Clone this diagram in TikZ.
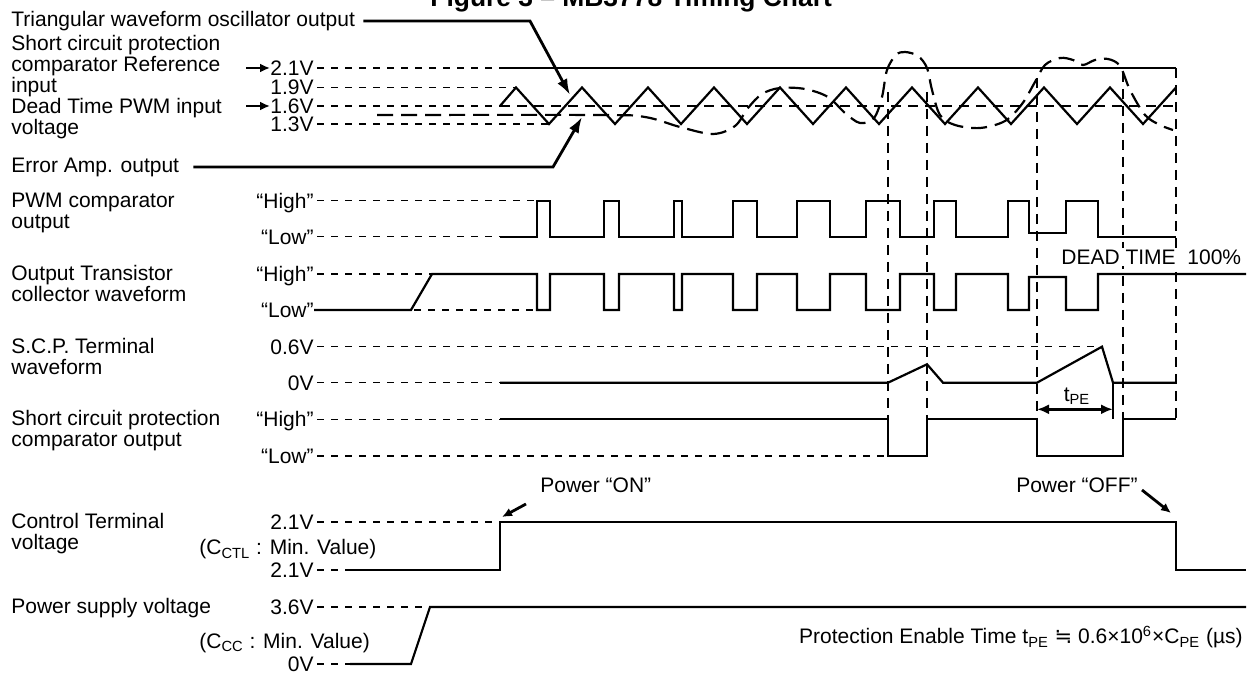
\documentclass[tikz,border=0pt]{standalone}
\usepackage{fontspec}
\setmainfont{Liberation Sans}
\newfontfamily\symfont{DejaVu Sans}
\usetikzlibrary{arrows.meta}

\tikzset{
  txt/.style={font=\fontsize{10.5}{10.5}\selectfont, inner sep=0pt, align=left},
  lev/.style={txt, anchor=base east, text height=7.5pt, text depth=0pt},
  sig/.style={line width=1.1pt},
  guide/.style={line width=0.55pt, dash pattern=on 3.5pt off 3.5pt, shorten <=1.5pt},
  vline/.style={line width=0.9pt, dash pattern=on 5pt off 3.5pt},
  eacurve/.style={line width=1.1pt, dash pattern=on 8pt off 4pt},
  lead/.style={line width=1.4pt, -{Latex[length=8pt,width=5.5pt]}},
  ptr/.style={line width=1.4pt, -{Latex[length=5pt,width=4.5pt]}},
  dbl/.style={line width=1.4pt, {Latex[length=6pt,width=5pt]}-{Latex[length=6pt,width=5pt]}}
}

\begin{document}
\begin{tikzpicture}[x=0.5pt, y=-0.5pt]
\useasboundingbox (0,0) rectangle (1254,673);

\node[txt, font=\fontsize{13.2}{14}\selectfont\bfseries, anchor=base west] (title) at (430,7) {Figure 3 – MB3778 Timing Chart};

\node[txt, anchor=west] (tri) at (11,21) {Triangular waveform oscillator output};
\node[txt, anchor=base west] (scpref) at (11,93) {Short circuit protection\\comparator Reference\\input};
\node[txt, anchor=base west] (dtpwm) at (11,135) {Dead Time PWM input\\voltage};
\node[txt, anchor=west] (eaout) at (11,167) {Error Amp. output};
\node[txt, anchor=base west] (pwmout) at (11,229) {PWM comparator\\output};
\node[txt, anchor=base west] (otr) at (11,302) {Output Transistor\\collector waveform};
\node[txt, anchor=base west] (scpt) at (11,375) {S.C.P. Terminal\\waveform};
\node[txt, anchor=base west] (scpc) at (11,447) {Short circuit protection\\comparator output};
\node[txt, anchor=base west] (ctl) at (11,550) {Control Terminal\\voltage};
\node[txt, anchor=base west] (vcc) at (11,614) {Power supply voltage};

\node[lev] (v21) at (314,75.5) {2.1V};
\node[lev] (v19) at (314,95) {1.9V};
\node[lev] (v16) at (314,113.5) {1.6V};
\node[lev] (v13) at (314,131.5) {1.3V};
\node[lev] (pwmhi) at (314,208.2) {“High”};
\node[lev] (pwmlo) at (314,244.2) {“Low”};
\node[lev] (othi) at (314,281.5) {“High”};
\node[lev] (otlo) at (314,317.5) {“Low”};
\node[lev] (v06) at (314,354.2) {0.6V};
\node[lev] (v0) at (314,390.2) {0V};
\node[lev] (schi) at (314,426.8) {“High”};
\node[lev] (sclo) at (314,463.5) {“Low”};
\node[lev] (cthi) at (314,529.5) {2.1V};
\node[txt, anchor=base west] (cctl) at (199,555) {(C\textsubscript{CTL} : Min. Value)};
\node[lev] (ctlo) at (314,577.5) {2.1V};
\node[lev] (vcchi) at (314,614.5) {3.6V};
\node[txt, anchor=base west] (ccc) at (199,648) {(C\textsubscript{CC} : Min. Value)};
\node[lev] (vcclo) at (314,671.5) {0V};

\draw[ptr] ([xshift=-12pt]v21.west) -- (v21.west);
\draw[ptr] ([xshift=-12pt]v16.west) -- (v16.west);

\draw[guide] (v21.east) -- (500,68);
\draw[guide] (v19.east) -- (516,87.5);
\draw[guide] (v16.east) -- (500,106);
\draw[guide] (v13.east) -- (549,124);
\draw[guide] (pwmhi.east) -- (537,200.7);
\draw[guide] (pwmlo.east) -- (500,236.7);
\draw[guide] (othi.east) -- (432,274);
\draw[guide] (411,310) -- (537,310);
\draw[guide] (v06.east) -- (1102,346.7);
\draw[guide] (v0.east) -- (500,382.7);
\draw[guide] (schi.east) -- (500,419.3);
\draw[guide] (sclo.east) -- (888,456);
\draw[guide] (cthi.east) -- (500,522);
\draw[guide] (ctlo.east) -- (350,570);
\draw[guide] (vcchi.east) -- (430,607);
\draw[guide] (vcclo.east) -- (350,664);

\draw[sig] (500,68) -- (1176,68);
\draw[sig] (500,106) \foreach \k in {0,...,9} { -- (516+66*\k,87.5) -- (549+66*\k,124) } -- (1176,87.5);
\draw[vline] (500,106) -- (1176,106);
\draw[eacurve] plot[smooth, tension=0.55] coordinates {(377,115) (600,115) (645,117) (680,127) (713,134) (735,126) (748,108) (762,94) (780,88) (805,89) (828,97) (845,113) (860,123) (874,118) (882,97) (887,70) (896,55) (905,52) (918,56) (927,68) (932,90) (940,115) (955,125) (980,128) (1005,121) (1022,104) (1035,82) (1045,65) (1060,58) (1073,60) (1083,65) (1095,60) (1108,59) (1120,66) (1130,90) (1145,115) (1160,125) (1173,130)};

\foreach \x/\y in {888/92, 927/92, 1037/78, 1123/72, 1176/68}
  \draw[vline] (\x,\y) -- (\x,419.3);

\draw[sig] (500,236.7) \foreach \a/\b in {537/550,604/619,674/682,733/757,797/830,866/900,934/956} { -- (\a,236.7) -- (\a,200.7) -- (\b,200.7) -- (\b,236.7) } -- (1008,236.7) -- (1008,200.7) -- (1029,200.7) -- (1029,233) -- (1066,233) -- (1066,200.7) -- (1098,200.7) -- (1098,236.7) -- (1176,236.7);

\draw[sig] (otlo.east) -- (411,310) -- (432,274) \foreach \a/\b in {537/550,604/619,674/682,733/757,797/830,866/900,934/956} { -- (\a,274) -- (\a,310) -- (\b,310) -- (\b,274) } -- (1008,274) -- (1008,310) -- (1029,310) -- (1029,277) -- (1066,277) -- (1066,310) -- (1098,310) -- (1098,274) -- (1246,274);
\node[txt, anchor=west, fill=white, inner sep=1pt] (dead) at (1059,257) {DEAD TIME\ \ 100\%};

\draw[sig] (500,382.7) -- (888,382.7) -- (927,364.3) -- (943,382.7) -- (1037,382.7) -- (1102,346.7) -- (1113,382.7) -- (1176,382.7);
\draw[sig] (1113,382.7) -- (1113,419.3);
\draw[sig] (500,419.3) -- (888,419.3) -- (888,456) -- (927,456) -- (927,419.3) -- (1037,419.3) -- (1037,456) -- (1123,456) -- (1123,419.3) -- (1176,419.3);
\coordinate (tpea) at (1037,409.3);
\coordinate (tpeb) at (1113,409.3);
\draw[dbl] (tpea) -- (tpeb);
\node[txt] (tpe) at (1077,396) {t\textsubscript{PE}};

\draw[sig] (350,570) -- (500,570) -- (500,522) -- (1176,522) -- (1176,570) -- (1246,570);
\draw[sig] (350,664) -- (411,664) -- (430,607) -- (1246,607);

\node[txt, anchor=west] (pon) at (540,485) {Power “ON”};
\node[txt, anchor=east] (poff) at (1138,485) {Power “OFF”};
\coordinate (ontip) at (502,517);
\coordinate (offtip) at (1171,513);
\draw[ptr] ([shift={(-14,19)}]pon.west) -- (ontip);
\draw[ptr] ([shift={(4,5)}]poff.east) -- (offtip);

\coordinate (tribend) at (530,21);
\coordinate (tritip) at (570,95);
\draw[lead, shorten <=4pt] (tri.east) -- (tribend) -- (tritip);
\coordinate (eabend) at (553,167);
\coordinate (eatip) at (582,117);
\draw[lead, shorten <=7pt] (eaout.east) -- (eabend) -- (eatip);

\node[txt, anchor=base east] (pet) at (1243,644) {Protection Enable Time t\textsubscript{PE} {\symfont ≒} 0.6×10\textsuperscript{6}×C\textsubscript{PE} (µs)};
\end{tikzpicture}
\end{document}
